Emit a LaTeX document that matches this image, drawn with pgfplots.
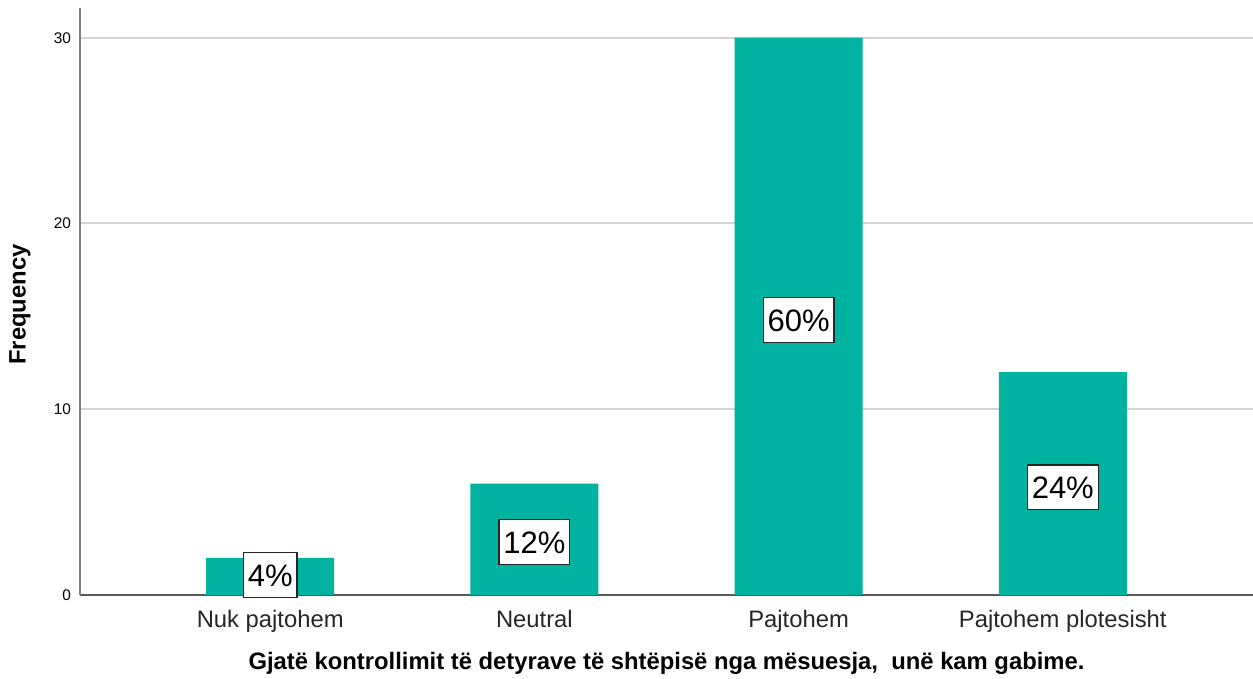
\documentclass[border=0pt]{standalone}
\usepackage{pgfplots}
\pgfplotsset{compat=1.18}
\usepackage{fontspec}
\setmainfont{Liberation Sans}
\definecolor{barteal}{HTML}{00B2A0}
\definecolor{gridgray}{HTML}{D4D4D4}
\definecolor{axgray}{HTML}{7F7F7F}
\begin{document}
\begin{tikzpicture}
\begin{axis}[
  scale only axis,
  width=586.5pt, height=293.5pt,
  xmin=-0.72, xmax=3.72,
  ymin=0, ymax=31.6,
  axis lines*=left,
  axis line style={axgray, line width=1pt},
  x axis line style={-, color=black!65},
  y axis line style={-},
  xtick={0,1,2,3},
  xticklabels={Nuk pajtohem, Neutral, Pajtohem, Pajtohem plotesisht},
  ytick={0,10,20,30},
  major tick length=0pt,
  ymajorgrids,
  grid style={gridgray, line width=1pt},
  xticklabel style={font=\fontsize{11.9}{13}\selectfont, text=black!85, yshift=-4pt},
  yticklabel style={font=\fontsize{7.7}{9}\selectfont, xshift=-1pt},
  /pgf/number format/assume math mode=true,
  xlabel={\textbf{Gjatë kontrollimit të detyrave të shtëpisë nga mësuesja,\ \ unë kam gabime.}},
  xlabel style={font=\fontsize{11.9}{13}\selectfont, at={(axis description cs:0.5,0)}, anchor=center, yshift=-34pt},
  ylabel={\textbf{Frequency}},
  ylabel style={font=\fontsize{11.9}{13}\selectfont, at={(axis description cs:-0.0512,0.495)}, anchor=center},
]
\addplot[ybar, bar width=64pt, fill=barteal, draw=none] coordinates {(0,2) (1,6) (2,30) (3,12)};
\addplot[only marks, mark=none, point meta=explicit symbolic,
  nodes near coords={\pgfplotspointmeta\%},
  nodes near coords style={anchor=center, draw=black!85, line width=0.6pt, fill=white,
    font=\fontsize{15.5}{16}\selectfont, inner xsep=2.2pt, text height=11.3pt, text depth=0pt, inner ysep=5.5pt}]
  table[meta=lab] {
x y lab
0 1.08 4
1 2.85 12
2 14.8 60
3 5.8 24
};
\end{axis}
\pgfresetboundingbox
\path (-40pt,-42pt) rectangle (586.5pt,297.5pt);
\end{tikzpicture}
\end{document}
